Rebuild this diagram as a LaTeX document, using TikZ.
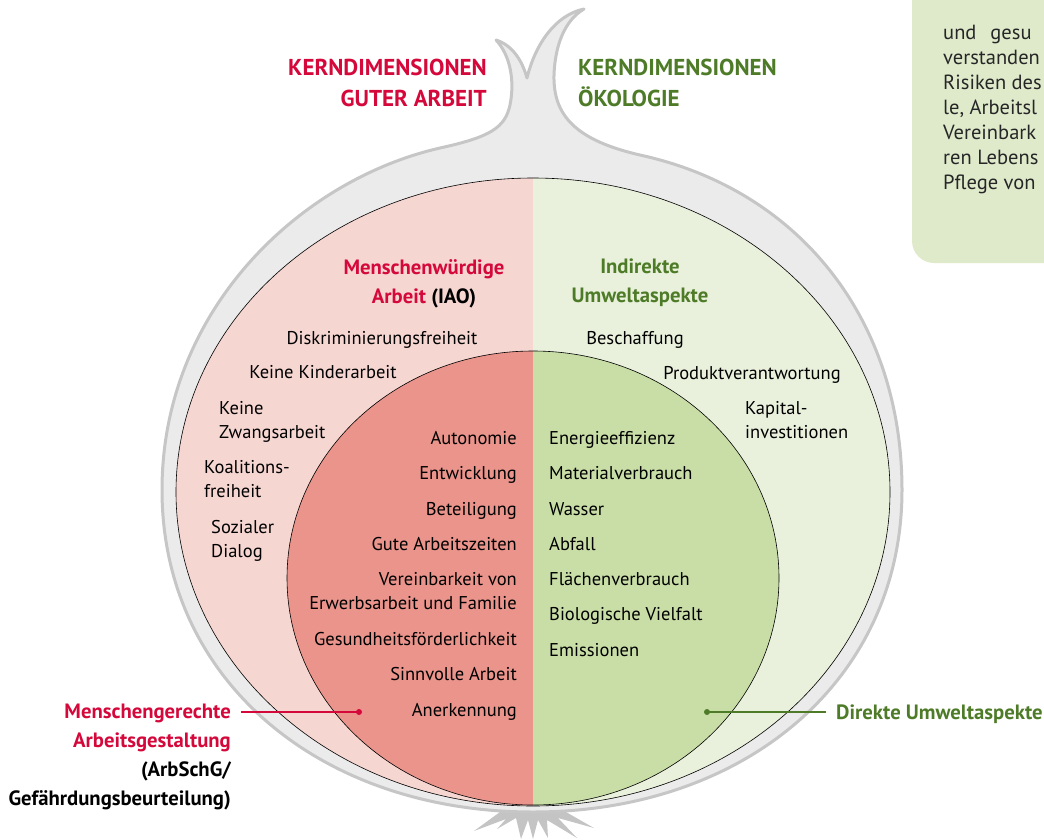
\documentclass[tikz,border=0pt]{standalone}
\usepackage{fontspec}
\setmainfont{PT Sans}
\usepackage{xcolor}
\usetikzlibrary{positioning}

\definecolor{arbeitred}{HTML}{D4083A}
\definecolor{oekogreen}{HTML}{4E7B27}
\definecolor{skingrey}{HTML}{EBEBEB}
\definecolor{skinline}{HTML}{C6C6C6}
\definecolor{rootgrey}{HTML}{C4C4C4}
\definecolor{ringpink}{HTML}{F6D6D1}
\definecolor{ringgreen}{HTML}{E9F1DC}
\definecolor{corered}{HTML}{EA948C}
\definecolor{coregreen}{HTML}{C9DEA7}
\definecolor{notegreen}{HTML}{DFEACB}

\tikzset{
  item/.style={font=\fontsize{18.5}{24.5}\selectfont, inner sep=0pt},
  headline/.style={font=\bfseries\fontsize{20.7}{29}\selectfont, inner sep=0pt},
  titleline/.style={font=\bfseries\fontsize{23}{31}\selectfont, inner sep=0pt},
  notetext/.style={font=\fontsize{20.5}{25}\selectfont, inner sep=0pt, text=black!85, anchor=base west},
  ringline/.style={draw=black, line width=0.6pt},
}

\begin{document}
\begin{tikzpicture}[x=1pt,y=-1pt]
  \useasboundingbox (0,0) rectangle (1044,839);

  % note box top right
  \fill[notegreen, rounded corners=22pt] (912,-40) rectangle (1090,263);
  \node[notetext] (note1) at (943,39) {und\hspace{14pt}gesu};
  \node[notetext] (note2) at (943,64) {verstanden};
  \node[notetext] (note3) at (943,89) {Risiken des};
  \node[notetext] (note4) at (943,114) {le, Arbeitsl};
  \node[notetext] (note5) at (943,139) {Vereinbark};
  \node[notetext] (note6) at (943,164) {ren Lebens};
  \node[notetext] (note7) at (943,189) {Pflege von};

  % roots
  \fill[rootgrey] (500,812) -- (474,831) -- (506,819) -- (497,829) -- (516,818)
    -- (521,839) -- (528,820) -- (533,839) -- (538,820) -- (548,838) -- (547,820)
    -- (577,838) -- (558,818) -- (594,828) -- (566,812) -- cycle;

  % onion skin
  \filldraw[fill=skingrey, draw=skinline, line width=3pt, line join=round]
    (533,812)
    .. controls (320,812) and (162,680) .. (162,490)
    .. controls (162,310) and (300,180) .. (440,148)
    .. controls (490,137) and (505,128) .. (510,105)
    .. controls (515,80) and (510,55) .. (496,40)
    .. controls (512,45) and (522,60) .. (527,78)
    .. controls (535,45) and (555,15) .. (584,9)
    .. controls (565,20) and (555,45) .. (554,75)
    .. controls (553,115) and (575,140) .. (640,155)
    .. controls (800,190) and (902,320) .. (902,490)
    .. controls (902,680) and (745,812) .. (533,812) -- cycle;

  % outer ring
  \begin{scope}
    \clip (533,492) ellipse [x radius=357pt, y radius=314pt];
    \fill[ringpink] (150,150) rectangle (533,820);
    \fill[ringgreen] (533,150) rectangle (910,820);
  \end{scope}
  \draw[ringline] (533,492) ellipse [x radius=357pt, y radius=314pt];

  % inner core
  \begin{scope}
    \clip (533,578) ellipse [x radius=246pt, y radius=227pt];
    \fill[corered] (250,320) rectangle (533,820);
    \fill[coregreen] (533,320) rectangle (800,820);
  \end{scope}
  \draw[ringline] (533,578) ellipse [x radius=246pt, y radius=227pt];

  % titles
  \node[titleline, text=arbeitred, align=right, anchor=north east] (titleArbeit) at (487,59)
    {KERNDIMENSIONEN\\GUTER ARBEIT};
  \node[titleline, text=oekogreen, align=left, anchor=north west] (titleOeko) at (578,59)
    {KERNDIMENSIONEN\\ÖKOLOGIE};

  % ring headings
  \node[headline, text=arbeitred, align=center, anchor=north] (headIAO) at (424,259)
    {Menschenwürdige\\Arbeit \textcolor{black}{(IAO)}};
  \node[headline, text=oekogreen, align=center, anchor=north] (headIndirekt) at (640,259)
    {Indirekte\\Umweltaspekte};

  % outer ring, left
  \node[item, anchor=base] (diskr) at (382,344) {Diskriminierungsfreiheit};
  \node[item, anchor=base] (kinder) at (323,378) {Keine Kinderarbeit};
  \node[item, align=left, anchor=north west] (zwang) at (219,401) {Keine\\Zwangsarbeit};
  \node[item, align=left, anchor=north west] (koal) at (204,460) {Koalitions-\\freiheit};
  \node[item, align=left, anchor=north west] (dialog) at (211,520) {Sozialer\\Dialog};

  % outer ring, right
  \node[item, anchor=base] (beschaff) at (635,344) {Beschaffung};
  \node[item, anchor=base] (produkt) at (752,379) {Produktverantwortung};
  \node[item, align=left, anchor=north west] (kapital) at (745,401) {Kapital-\\investitionen};

  % core, left
  \node[item, anchor=base east] (autonomie) at (517,444) {Autonomie};
  \node[item, anchor=base east] (entwickl) at (517,479) {Entwicklung};
  \node[item, anchor=base east] (beteil) at (517,515) {Beteiligung};
  \node[item, anchor=base east] (zeiten) at (517,550) {Gute Arbeitszeiten};
  \node[item, align=right, anchor=north east] (familie) at (517,572)
    {Vereinbarkeit von\\Erwerbsarbeit und Familie};
  \node[item, anchor=base east] (gesund) at (517,645) {Gesundheitsförderlichkeit};
  \node[item, anchor=base east] (sinn) at (517,680) {Sinnvolle Arbeit};
  \node[item, anchor=base east] (anerk) at (517,716) {Anerkennung};

  % core, right
  \node[item, anchor=base west] (energie) at (549,444) {Energieeffizienz};
  \node[item, anchor=base west] (material) at (549,479) {Materialverbrauch};
  \node[item, anchor=base west] (wasser) at (549,515) {Wasser};
  \node[item, anchor=base west] (abfall) at (549,550) {Abfall};
  \node[item, anchor=base west] (flaeche) at (549,585) {Flächenverbrauch};
  \node[item, anchor=base west] (vielfalt) at (549,620) {Biologische Vielfalt};
  \node[item, anchor=base west] (emiss) at (549,656) {Emissionen};

  % side labels with connectors
  \node[headline, text=arbeitred, align=right, anchor=north east] (menschger) at (231,704)
    {Menschengerechte\\Arbeitsgestaltung\\\textcolor{black}{(ArbSchG/}\\\textcolor{black}{Gefährdungsbeurteilung)}};
  \node[headline, text=oekogreen, anchor=base west] (direkt) at (836,719) {Direkte Umweltaspekte};
  \coordinate (dotL) at (359,712);
  \coordinate (dotR) at (707,712);
  \draw[arbeitred, line width=1.2pt] (menschger.north east |- dotL) ++(10,0) -- (dotL);
  \fill[arbeitred] (dotL) circle (3pt);
  \draw[oekogreen, line width=1.2pt] (direkt.west |- dotR) ++(-10,0) -- (dotR);
  \fill[oekogreen] (dotR) circle (3pt);
\end{tikzpicture}
\end{document}
